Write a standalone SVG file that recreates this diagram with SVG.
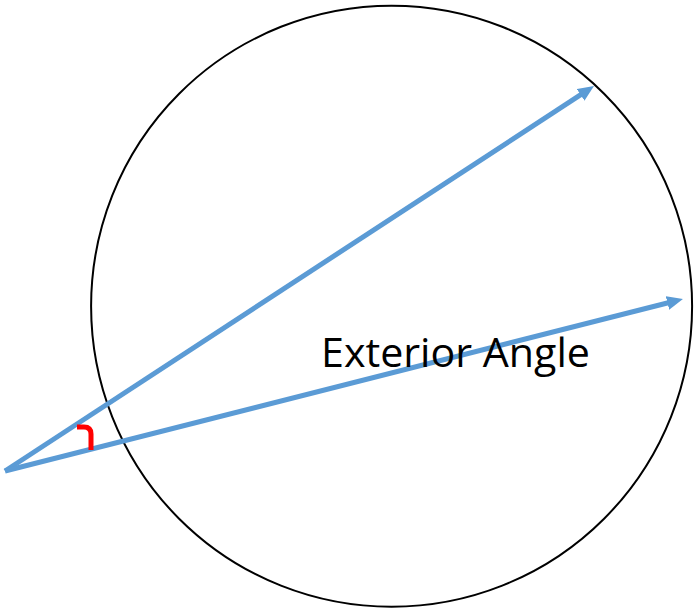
<svg xmlns="http://www.w3.org/2000/svg" width="695" height="610" viewBox="0 0 695 610">
  <style>
    .ray { stroke: #5B9BD5; stroke-width: 5; fill: none; marker-end: url(#arrow); }
    .circ { fill: none; stroke: #000000; stroke-width: 2; }
    .lbl { font-family: "Open Sans", "Liberation Sans", sans-serif; font-size: 41px; fill: #000000; }
  </style>
  <defs>
    <marker id="arrow" markerUnits="userSpaceOnUse" viewBox="0 0 16 14" markerWidth="16" markerHeight="14" refX="8" refY="7" orient="auto">
      <path d="M0,0 L16,7 L0,14 z" fill="#5B9BD5"/>
    </marker>
  </defs>
  <rect width="695" height="610" fill="#ffffff"/>
  <g id="circle">
    <circle class="circ" cx="391.6" cy="306.2" r="300.5"/>
  </g>
  <g id="connectors">
    <line class="ray" x1="5" y1="471" x2="587.3" y2="90.4"/>
    <line class="ray" x1="5" y1="471" x2="675.2" y2="301"/>
  </g>
  <g id="angle-mark">
    <path d="M77,427 L84,427 Q91,427 91,434 L91,450" fill="none" stroke="#FF0000" stroke-width="5"/>
  </g>
  <g id="label">
    <text class="lbl" x="321" y="367" textLength="269" lengthAdjust="spacingAndGlyphs">Exterior Angle</text>
  </g>
</svg>
